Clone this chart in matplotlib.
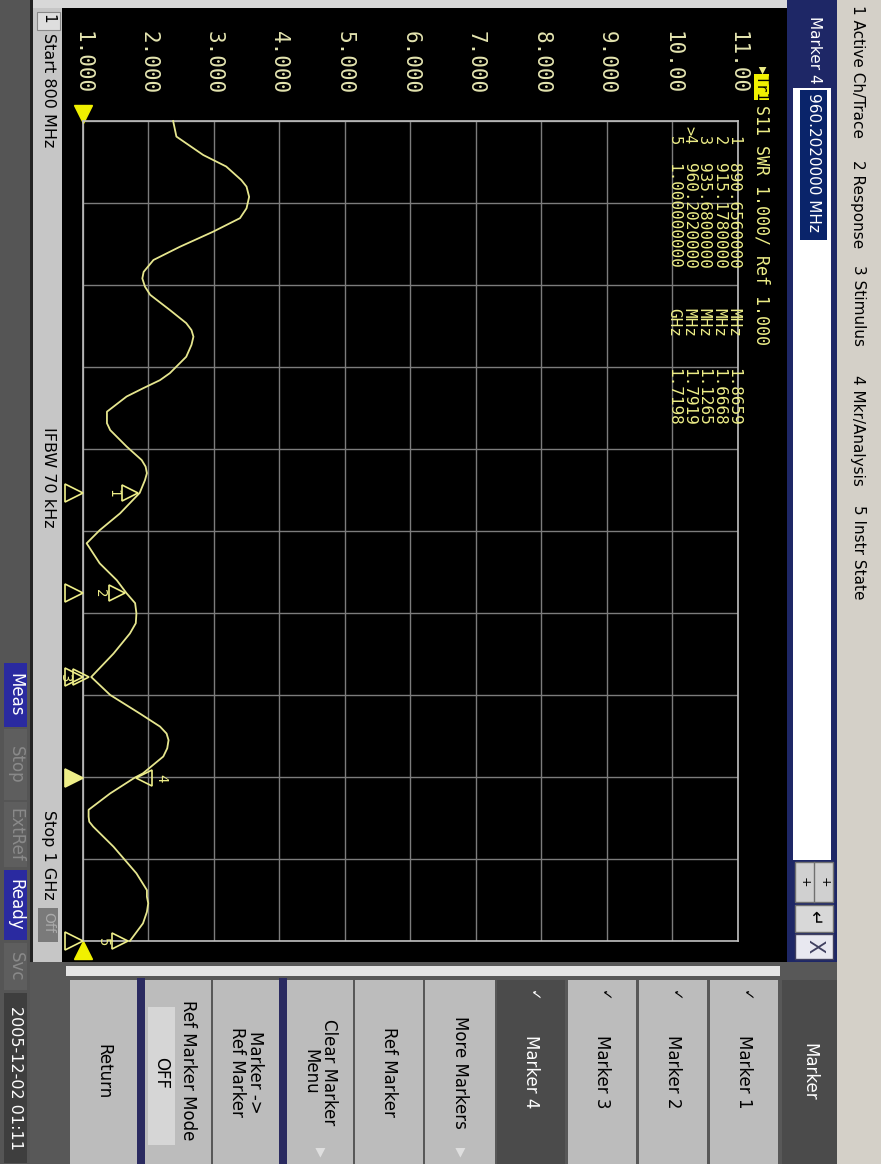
import matplotlib.pyplot as plt
from matplotlib.patches import Rectangle
from matplotlib.transforms import ScaledTranslation, blended_transform_factory

plt.rcParams['font.family'] = ['DejaVu Sans']

W, H = 881, 1164

# S11 SWR trace (frequency in MHz, SWR)
freq_mhz = [800, 803.8, 808.3, 811.1, 814.4, 816.0, 818.5, 821.3, 823.7, 827.0,
            830.7, 833.9, 836.8, 838.4, 840.4, 842.4, 846.1, 849.3, 851.0, 852.6,
            854.6, 857.5, 861.5, 863.2, 865.2, 867.2, 870.9, 873.7, 875.4, 879.4,
            882.7, 884.3, 885.9, 887.6, 890.7, 895.7, 899.8, 903.0, 907.9, 912.0,
            915.2, 917.6, 920.1, 922.5, 925.0, 929.9, 935.6, 940.0, 944.5, 947.7,
            949.4, 951.0, 953.0, 955.0, 959.1, 960.2, 964.0, 968.0, 969.7, 970.9,
            972.1, 977.0, 983.5, 987.6, 989.2, 990.8, 992.9, 995.7, 1000]
swr = [2.38, 2.43, 2.84, 3.19, 3.42, 3.50, 3.54, 3.50, 3.40, 2.99,
       2.48, 2.08, 1.93, 1.91, 1.95, 2.03, 2.33, 2.58, 2.66, 2.69,
       2.66, 2.58, 2.33, 2.18, 1.92, 1.67, 1.37, 1.37, 1.42, 1.67,
       1.90, 1.96, 1.98, 1.95, 1.87, 1.57, 1.26, 1.06, 1.26, 1.52,
       1.67, 1.80, 1.82, 1.81, 1.72, 1.47, 1.13, 1.42, 1.87, 2.18,
       2.28, 2.31, 2.29, 2.23, 1.92, 1.79, 1.42, 1.09, 1.09, 1.10,
       1.16, 1.47, 1.82, 1.98, 1.98, 2.00, 1.98, 1.92, 1.72]

swr_ticks = [1, 2, 3, 4, 5, 6, 7, 8, 9, 10, 11]
swr_labels = ['1.000', '2.000', '3.000', '4.000', '5.000', '6.000',
              '7.000', '8.000', '9.000', '10.00', '11.00']
freq_grid = [800, 820, 840, 860, 880, 900, 920, 940, 960, 980, 1000]

marker_num = ['1', '2', '3', '4', '5']
marker_freq = [890.656, 915.178, 935.68, 960.202, 1000.0]
marker_swr = [1.8659, 1.6668, 1.1265, 1.7919, 1.7198]
marker_freq_text = ['890.6560000', '915.1780000', '935.6800000', '960.2020000', '1.000000000']
marker_unit = ['MHz', 'MHz', 'MHz', 'MHz', 'GHz']
active_marker = 3

menu_items = ['1 Active Ch/Trace', '2 Response', '3 Stimulus', '4 Mkr/Analysis', '5 Instr State']
menu_y = [5, 160, 265, 375, 505]

softkeys = ['Marker', 'Marker 1', 'Marker 2', 'Marker 3', 'Marker 4', 'More Markers',
            'Ref Marker', 'Clear Marker\nMenu', 'Marker ->\nRef Marker', 'Ref Marker Mode', 'Return']

status_items = ['Meas', 'Stop', 'ExtRef', 'Ready', 'Svc', '2005-12-02 01:11']

beige = '#d4d0c8'
navy = '#1e2766'
sel = '#0a246a'
btn = '#bcbcbc'
btn_dark = '#4b4b4b'
yel = '#eeee88'
trace_col = '#e6e68e'

fig = plt.figure(figsize=(W / 100, H / 100), dpi=100)
fig.patch.set_facecolor(beige)

ui = fig.add_axes([0, 0, 1, 1])
ui.set_xlim(0, W)
ui.set_ylim(H, 0)
ui.axis('off')


def box(x0, y0, x1, y1, color, ax=ui, **kw):
    ax.add_patch(Rectangle((x0, y0), x1 - x0, y1 - y0, facecolor=color, lw=kw.pop('lw', 0), **kw))


def vtext(x, y, s, ax=ui, va='top', **kw):
    ax.text(x, y, s, rotation=-90, ha='center', va=va, **kw)


# ---- panels ----
box(0, 0, 30, H, '#555555')
box(30, 0, 33, 962, '#222222')
box(33, 0, 787, 8, '#d8d8d8')
box(33, 8, 62, 962, '#c6c6c6')
box(62, 8, 787, 962, 'black')
box(787, 0, 837, 962, navy)
box(793, 88, 831, 860, 'white')
box(837, 0, W, H, beige)

# menu bar
for s, y in zip(menu_items, menu_y):
    vtext(858, y, s, fontsize=11)

# entry bar
vtext(814, 16, 'Marker 4', color='white', fontsize=11)
box(800, 90, 827, 240, sel)
vtext(813.5, 93, '960.2020000 MHz', color='white', fontsize=11)
# small buttons at the end of the entry bar
box(795, 862, 833, 902, '#d0d0d0', edgecolor='#707070', lw=1)
ui.plot([814, 814], [862, 902], color='#707070', lw=1)
vtext(804, 882, '+', va='center', fontsize=9)
vtext(824, 882, '+', va='center', fontsize=9)
box(795, 905, 833, 932, '#d8d8d8', edgecolor='#707070', lw=1)
vtext(814, 918, '\u21b5', va='center', fontsize=13)
box(795, 934, 833, 959, '#e8e8f0', edgecolor='#404060', lw=1)
vtext(814, 946, 'X', va='center', fontsize=15, color='#404060')

# start / stop strip
box(37, 12, 60, 30, '#dedede', edgecolor='#888888', lw=0.8)
vtext(48, 14, '1', fontsize=11)
vtext(48, 33, 'Start 800 MHz', fontsize=11.5)
vtext(48, 427, 'IFBW 70 kHz', fontsize=11.5)
vtext(48, 810, 'Stop 1 GHz', fontsize=11.5)
box(38, 908, 58, 942, '#7a7a7a')
vtext(48, 912, 'Off', fontsize=10, color='#aaaaaa')

# status bar
status_box = [(663, 727, '#2a2aa0', 'white'), (729, 800, '#5e5e5e', '#8a8a8a'),
              (802, 867, '#5e5e5e', '#8a8a8a'), (870, 940, '#2a2aa0', 'white'),
              (943, 990, '#5e5e5e', '#8a8a8a'), (993, 1163, '#3e3e3e', 'white')]
for s, (y0, y1, bc, tc) in zip(status_items, status_box):
    box(4, y0, 27, y1, bc)
    vtext(15.5, (y0 + y1) / 2, s, va='center', fontsize=11.5 if len(s) > 6 else 12, color=tc)

# softkeys
box(30, 962, 837, H, '#585858')
box(66, 966, 780, 976, '#e4e4e4')
key_x = [(782, 837), (710, 778), (639, 707), (568, 636), (497, 565), (425, 495),
         (355, 423), (287, 353), (213, 279), (145, 211), (70, 137)]
box(137, 978, 145, H, '#2a2a60')
box(279, 978, 287, H, '#2a2a60')
for i, (s, (x0, x1)) in enumerate(zip(softkeys, key_x)):
    dark = i in (0, 4)
    box(x0, 980, x1, H, btn_dark if dark else btn)
    tc = 'white' if dark else 'black'
    xc = (x0 + x1) / 2
    if s == 'Ref Marker Mode':
        box(148, 1007, 175, 1145, '#d6d6d6')
        vtext(188, 1000, s, fontsize=12)
        vtext(161, 1057, 'OFF', fontsize=12)
    else:
        vtext(xc, 1072, s, va='center', fontsize=12, color=tc, linespacing=1.05)
    if 1 <= i <= 4:
        vtext(xc + 2, 996, '\u2713', va='center', fontsize=10, color=tc)
    if s in ('More Markers', 'Clear Marker\nMenu'):
        vtext(xc, 1152, '\u25b6', va='center', fontsize=9, color='#e0e0e0')

# ---- measurement grid ----
gx0, gx1, gy0, gy1 = 82.7, 738.0, 121.0, 941.0
ax = fig.add_axes([gx0 / W, 1 - gy1 / H, (gx1 - gx0) / W, (gy1 - gy0) / H])
ax.set_facecolor('none')
ax.set_xlim(1, 11)
ax.set_ylim(1000, 800)
ax.set_xticks(swr_ticks, swr_labels)
ax.set_yticks(freq_grid)
ax.tick_params(axis='x', top=True, labeltop=True, bottom=False, labelbottom=False,
               length=0, pad=19, labelrotation=-90, labelcolor='#e4e4b0', labelsize=15)
ax.tick_params(axis='y', left=False, labelleft=False, length=0)
for t in ax.get_xticklabels():
    t.set_fontfamily('DejaVu Sans Mono')
ax.grid(True, color='#7c7c7c', lw=1)
for sp in ax.spines.values():
    sp.set_color('#c0c0c0')
    sp.set_linewidth(1.2)

ax.plot(swr, freq_mhz, color=trace_col, lw=1.3, clip_on=False, zorder=3)

# markers on the trace
for k, (n, f, v) in enumerate(zip(marker_num, marker_freq, marker_swr)):
    side = 1 if k == active_marker else -1
    off = ScaledTranslation(side * 7 / 72, 0, fig.dpi_scale_trans)
    ax.plot([v], [f], marker='<' if side > 0 else '>', ms=11, mfc='none', mec=yel,
            mew=1.2, transform=ax.transData + off, clip_on=False, zorder=4)
    toff = ScaledTranslation(side * 19 / 72, 0, fig.dpi_scale_trans)
    ax.text(v, f, n, rotation=-90, ha='center', va='center', color=yel, fontsize=10,
            family='DejaVu Sans Mono', transform=ax.transData + toff, clip_on=False)

# stimulus markers on the left edge
edge = blended_transform_factory(ax.transAxes, ax.transData)
for k, f in enumerate(marker_freq):
    filled = k == active_marker
    ax.plot([-0.014], [f], marker='>', ms=13, mfc=yel if filled else 'none', mec=yel,
            mew=1.2, transform=edge, clip_on=False, zorder=4)

# reference position triangles
ref = blended_transform_factory(ax.transData, ax.transAxes)
ax.plot([1], [1.009], marker='v', ms=13, color='#f0f000', transform=ref, clip_on=False)
ax.plot([1], [-0.011], marker='^', ms=13, color='#f0f000', transform=ref, clip_on=False)

# ---- overlay texts: trace title and marker table ----
ov = fig.add_axes([0, 0, 1, 1])
ov.set_xlim(0, W)
ov.set_ylim(H, 0)
ov.axis('off')
ov.set_facecolor('none')

vtext(762, 66, '\u25b6', ax=ov, fontsize=7, color=yel)
box(754, 74, 769, 100, '#f0f000', ax=ov)
vtext(761.5, 75, 'Tr1', ax=ov, fontsize=10.5, color='black', family='DejaVu Sans Mono')
vtext(761.5, 105, 'S11 SWR 1.000/ Ref 1.000', ax=ov, fontsize=12,
      color=yel, family='DejaVu Sans Mono')

for k, (n, ft, u, v) in enumerate(zip(marker_num, marker_freq_text, marker_unit, marker_swr)):
    xr = 734 - k * 15
    lab = '>' + n if k == active_marker else n
    vtext(xr, 136 - (10 if k == active_marker else 0), lab, ax=ov, fontsize=11, color=yel,
          family='DejaVu Sans Mono')
    vtext(xr, 163, ft, ax=ov, fontsize=11.5, color=yel, family='DejaVu Sans Mono')
    vtext(xr, 308, u, ax=ov, fontsize=11.5, color=yel, family='DejaVu Sans Mono')
    vtext(xr, 368, '%.4f' % v, ax=ov, fontsize=11.5, color=yel, family='DejaVu Sans Mono')

fig.savefig('out.png', dpi=100, facecolor=beige)
